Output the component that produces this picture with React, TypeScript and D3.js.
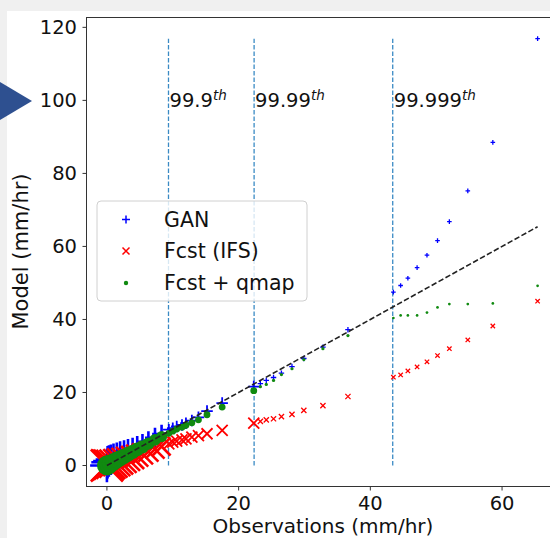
import React from "react";
import * as d3 from "d3";

// ---- data ----
const obsQ = [0, 0.1, 0.3, 0.6, 1.0, 1.5, 2.0, 2.6, 3.2, 3.9, 4.6, 5.4, 6.3, 7.3, 8.3,
  9.4, 10.0, 10.6, 11.4, 12.0, 12.9, 13.9, 15.2, 17.5,
  22.3, 23.3, 24.2, 25.3, 26.5, 28.1, 29.9, 32.8, 36.6,
  43.5, 44.6, 45.7, 47.1, 48.6, 50.2, 52.0, 54.8, 58.6, 65.4];
const ganQ = [0, 0.9, 1.2, 1.6, 2.0, 2.4, 2.9, 3.3, 3.8, 4.3, 4.9, 5.6, 6.5, 7.6, 8.6,
  9.8, 10.2, 10.7, 11.1, 11.6, 12.3, 13.2, 14.9, 17.1,
  21.6, 22.4, 23.3, 24.1, 25.3, 27.1, 29.3, 32.4, 37.2,
  47.5, 49.3, 51.3, 54.2, 57.6, 61.6, 66.8, 75.2, 88.5, 116.9];
const ifsQ = [0, 0.1, 0.2, 0.3, 0.5, 0.8, 1.1, 1.4, 1.8, 2.2, 2.7, 3.2, 3.8, 4.5, 5.2,
  5.9, 6.4, 6.7, 7.0, 7.3, 7.8, 8.2, 8.7, 9.6,
  11.6, 12.1, 12.5, 12.8, 13.4, 14.0, 15.1, 16.4, 18.9,
  24.2, 24.8, 25.9, 27.0, 28.4, 30.1, 32.0, 34.4, 38.2, 45.0];
const qmapQ = [0, 0.1, 0.3, 0.6, 1.0, 1.5, 2.0, 2.5, 3.1, 3.7, 4.4, 5.1, 6.0, 7.0, 7.9,
  8.8, 9.4, 10.0, 10.5, 11.0, 11.7, 12.5, 13.9, 16.0,
  20.5, 21.6, 22.2, 23.3, 24.9, 26.5, 29.0, 32.0, 35.6,
  40.4, 41.1, 41.1, 41.1, 41.9, 43.3, 44.2, 44.2, 44.4, 49.2];
const pctlValues = [9.35, 22.35, 43.4];
const pctlLabels = ["99.9", "99.99", "99.999"];
const xTicks = [0, 20, 40, 60];
const yTicks = [0, 20, 40, 60, 80, 100, 120];
const seriesNames = ["GAN", "Fcst (IFS)", "Fcst + qmap"];

const W = 550, H = 538;
const FONT = "DejaVu Sans, sans-serif";

export default function App() {
  const x = d3.scaleLinear().domain([-3.1, 68.8]).range([86.5, 560]);
  const y = d3.scaleLinear().domain([-5.75, 122.7]).range([486.5, 17.5]);
  const maxY = d3.max(ganQ) as number;
  const maxX = d3.max(obsQ) as number;

  // marker scale by percentile band
  const band = (v: number) => pctlValues.filter((p) => v >= p - 0.01).length;
  const sizeFor = (i: number) => {
    const b = band(obsQ[i]);
    if (b === 0) return 16 - (i / 14) * 7;
    if (b === 1) return 5.5;
    if (b === 2) return 2.6;
    return 2.2;
  };
  const swFor = (i: number) => (band(obsQ[i]) === 0 ? 2.6 : band(obsQ[i]) === 1 ? 1.8 : 1.3);

  const plus = (cx: number, cy: number, s: number) =>
    `M${cx - s},${cy}H${cx + s}M${cx},${cy - s}V${cy + s}`;
  const cross = (cx: number, cy: number, s: number) =>
    `M${cx - s},${cy - s}L${cx + s},${cy + s}M${cx - s},${cy + s}L${cx + s},${cy - s}`;

  return (
    <div style={{ position: "fixed", left: 0, top: 0 }}>
      <svg width={W} height={H} style={{ display: "block" }} fontFamily={FONT}>
        <defs>
          <clipPath id="plotclip">
            <rect x={86.5} y={17.5} width={560 - 86.5} height={486.5 - 17.5} />
          </clipPath>
        </defs>
        <rect x={0} y={0} width={W} height={H} fill="#f0f0f0" />
        <rect x={7} y={11} width={W - 7} height={H - 11} fill="#ffffff" />

        {/* axes frame */}
        <rect x={86.5} y={17.5} width={560 - 86.5} height={486.5 - 17.5} fill="#fff" stroke="#333" strokeWidth={1} />

        <g clipPath="url(#plotclip)">
          {/* percentile lines */}
          {pctlValues.map((p, i) => (
            <line key={"v" + i} x1={x(p)} x2={x(p)} y1={y(0)} y2={y(maxY)}
              stroke="#3a8ac4" strokeWidth={1.3} strokeDasharray="4.5,2" />
          ))}
          {/* GAN */}
          {obsQ.map((o, i) => (
            <path key={"g" + i} d={plus(x(o), y(ganQ[i]), sizeFor(i) * 1.05)} stroke="#0000ff" strokeWidth={swFor(i)} fill="none" />
          ))}
          {/* IFS */}
          {obsQ.map((o, i) => (
            <path key={"r" + i} d={cross(x(o), y(ifsQ[i]), sizeFor(i))} stroke="#ff0000" strokeWidth={swFor(i)} fill="none" />
          ))}
          {/* qmap */}
          {obsQ.map((o, i) => (
            <circle key={"q" + i} cx={x(o)} cy={y(qmapQ[i])} r={sizeFor(i) * 0.62} fill="#108a10" />
          ))}
          {/* 1:1 line */}
          <line x1={x(0)} y1={y(0)} x2={x(maxX)} y2={y(maxX)} stroke="#222" strokeWidth={1.6} strokeDasharray="5.5,2.4" />
        </g>

        {/* percentile labels */}
        {pctlValues.map((p, i) => (
          <text key={"t" + i} x={x(p) + 1} y={y(100) + 7} fontSize={19.5} fill="#111">
            {pctlLabels[i]}
            <tspan fontSize={13.5} fontStyle="italic" dy={-7}>th</tspan>
          </text>
        ))}

        {/* y axis */}
        {yTicks.map((t) => (
          <g key={"yt" + t}>
            <line x1={82.5} x2={86.5} y1={y(t)} y2={y(t)} stroke="#333" />
            <text x={77} y={y(t)} dy="0.35em" textAnchor="end" fontSize={19.5} fill="#111">{t}</text>
          </g>
        ))}
        {/* x axis */}
        {xTicks.map((t) => (
          <g key={"xt" + t}>
            <line x1={x(t)} x2={x(t)} y1={486.5} y2={490.5} stroke="#333" />
            <text x={x(t)} y={510} textAnchor="middle" fontSize={19.5} fill="#111">{t}</text>
          </g>
        ))}
        <text x={323} y={533} textAnchor="middle" fontSize={20} fill="#111">Observations (mm/hr)</text>
        <text transform="translate(28,251.5) rotate(-90)" textAnchor="middle" fontSize={21} fill="#111">Model (mm/hr)</text>

        {/* legend */}
        <rect x={97} y={201} width={210} height={100} rx={4} fill="#fff" fillOpacity={0.8} stroke="#d0d0d0" />
        <path d={plus(126, 219.5, 4)} stroke="#0000ff" strokeWidth={1.5} />
        <text x={164} y={219.5} dy="0.35em" fontSize={20.5} fill="#111">{seriesNames[0]}</text>
        <path d={cross(126, 251, 3.5)} stroke="#ff0000" strokeWidth={1.5} />
        <text x={164} y={251} dy="0.35em" fontSize={20.5} fill="#111">{seriesNames[1]}</text>
        <circle cx={126} cy={283} r={2.2} fill="#108a10" />
        <text x={164} y={283} dy="0.35em" fontSize={20.5} fill="#111">{seriesNames[2]}</text>

        {/* pointer arrow */}
        <path d="M0,82L32,101L0,120Z" fill="#2e5090" />
      </svg>
    </div>
  );
}
